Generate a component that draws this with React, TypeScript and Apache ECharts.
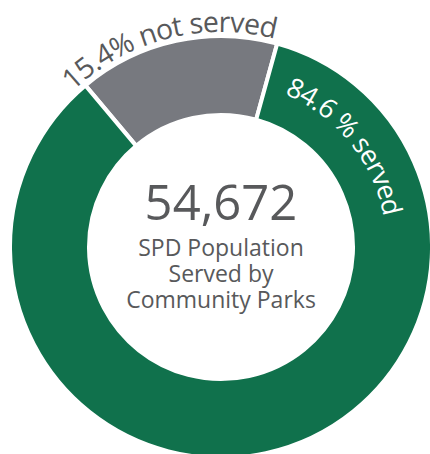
import React, { useEffect, useRef } from "react";
import * as echarts from "echarts";

// ---- data ----
const categories = ["not served", "served"];
const values = [15.4, 84.6];
const sliceColors = ["#77797f", "#10714c"];
const sliceLabels = ["15.4% not served", "84.6 % served"];
const centerNumber = "54,672";
const centerCaption = ["SPD Population", "Served by", "Community Parks"];

// ---- layout ----
const CX = 221;
const CY = 247;
const R_IN = 132;
const R_OUT = 211;
const FONT = "'Open Sans', 'Noto Sans', sans-serif";
const TEXT_GRAY = "#58595b";

function arcText(
  text: string,
  fontSize: number,
  r: number,
  centerDeg: number,
  color: string
) {
  const canvas = document.createElement("canvas");
  const ctx = canvas.getContext("2d")!;
  ctx.font = `${fontSize}px ${FONT}`;
  const chars = Array.from(text);
  const widths = chars.map((c) => ctx.measureText(c).width);
  const total = widths.reduce((a, b) => a + b, 0);
  const start = (centerDeg * Math.PI) / 180 - total / (2 * r);
  const els: any[] = [];
  let acc = 0;
  chars.forEach((ch, i) => {
    const a = start + (acc + widths[i] / 2) / r;
    acc += widths[i];
    if (ch === " ") return;
    els.push({
      type: "text",
      x: CX + r * Math.sin(a),
      y: CY - r * Math.cos(a),
      rotation: -a,
      silent: true,
      z: 100,
      style: {
        text: ch,
        fontSize,
        fontFamily: FONT,
        fill: color,
        align: "center",
        verticalAlign: "middle",
        textAlign: "center",
        textVerticalAlign: "middle",
      },
    });
  });
  return els;
}

export default function App() {
  const ref = useRef<HTMLDivElement>(null);
  useEffect(() => {
    if (!ref.current) return;
    const chart = echarts.init(ref.current, undefined, { renderer: "svg" });
    const graphic: any[] = [
      ...arcText(sliceLabels[0], 28.5, 226, -14.5, TEXT_GRAY),
      ...arcText(sliceLabels[1], 27, 176, 51, "#ffffff"),
      {
        type: "text",
        x: CX,
        y: CY - 46,
        silent: true,
        z: 100,
        style: {
          text: centerNumber,
          fontSize: 49,
          fontFamily: FONT,
          fill: TEXT_GRAY,
          align: "center",
          verticalAlign: "middle",
          textAlign: "center",
          textVerticalAlign: "middle",
        },
      },
      {
        type: "text",
        x: CX,
        y: CY + 26,
        silent: true,
        z: 100,
        style: {
          text: centerCaption.join("\n"),
          fontSize: 23,
          lineHeight: 26,
          fontFamily: FONT,
          fill: TEXT_GRAY,
          align: "center",
          verticalAlign: "middle",
          textAlign: "center",
          textVerticalAlign: "middle",
        },
      },
    ];
    chart.setOption({
      animation: false,
      backgroundColor: "#ffffff",
      series: [
        {
          type: "pie",
          center: [CX, CY],
          radius: [R_IN, R_OUT],
          startAngle: 130,
          clockwise: true,
          silent: true,
          label: { show: false },
          labelLine: { show: false },
          itemStyle: { borderColor: "#ffffff", borderWidth: 4 },
          data: categories.map((name, i) => ({
            name,
            value: values[i],
            itemStyle: { color: sliceColors[i] },
          })),
        },
      ],
      graphic,
    });
    return () => chart.dispose();
  }, []);
  return (
    <div
      ref={ref}
      style={{ position: "fixed", left: 0, top: 0, width: 430, height: 454 }}
    />
  );
}
